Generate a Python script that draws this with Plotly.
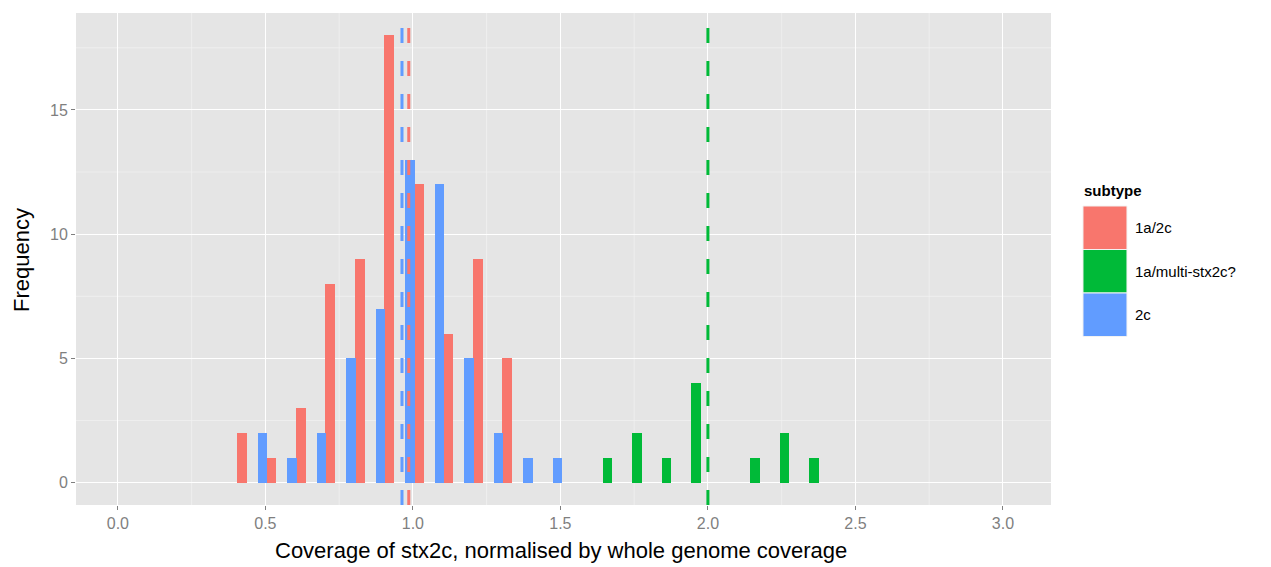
import plotly.graph_objects as go

# ---- data ----
subtypes = ["1a/2c", "1a/multi-stx2c?", "2c"]
colors = ["#F8766D", "#00BA38", "#619CFF"]

red_x = [0.42, 0.52, 0.62, 0.72, 0.82, 0.92, 1.02, 1.12, 1.22, 1.32]
red_y = [2, 1, 3, 8, 9, 18, 12, 6, 9, 5]

green_x = [1.66, 1.76, 1.86, 1.96, 2.16, 2.26, 2.36]
green_y = [1, 2, 1, 4, 1, 2, 1]

blue_x = [0.49, 0.59, 0.69, 0.79, 0.89, 0.99, 1.09, 1.19, 1.29, 1.39, 1.49]
blue_y = [2, 1, 2, 5, 7, 13, 12, 5, 2, 1, 1]

mean_x = [0.986, 2.0, 0.963]   # per subtype (dashed lines)

x_ticks = [0.0, 0.5, 1.0, 1.5, 2.0, 2.5, 3.0]
x_tick_labels = ["0.0", "0.5", "1.0", "1.5", "2.0", "2.5", "3.0"]
y_ticks = [0, 5, 10, 15]

series = [(red_x, red_y), (green_x, green_y), (blue_x, blue_y)]

fig = go.Figure()
for (xs, ys), name, col in zip(series, subtypes, colors):
    fig.add_trace(go.Bar(x=xs, y=ys, name=name, width=0.033,
                         marker=dict(color=col, line=dict(width=0)),
                         showlegend=False))

font_family = "Liberation Sans, Arial, sans-serif"
grey50 = "#7F7F7F"

shapes = []
# minor gridlines
for v in [0.25, 0.75, 1.25, 1.75, 2.25, 2.75]:
    shapes.append(dict(type="line", xref="x", yref="paper", x0=v, x1=v, y0=0, y1=1,
                       line=dict(color="#F2F2F2", width=0.7), layer="below"))
for v in [2.5, 7.5, 12.5, 17.5]:
    shapes.append(dict(type="line", xref="paper", yref="y", x0=0, x1=1, y0=v, y1=v,
                       line=dict(color="#F2F2F2", width=0.7), layer="below"))
# mean lines
for mx, col in zip(mean_x, colors):
    shapes.append(dict(type="line", xref="x", yref="paper", x0=mx, x1=mx, y0=0, y1=1,
                       line=dict(color=col, width=3, dash="15px,18px"), layer="above"))

annotations = [
    dict(text="Coverage of stx2c, normalised by whole genome coverage",
         xref="paper", yref="paper", x=0.497, y=-0.0915, xanchor="center", yanchor="middle",
         showarrow=False, font=dict(size=22, color="#000000", family=font_family)),
    dict(text="Frequency", xref="paper", yref="paper", x=-0.0554, y=0.498, textangle=-90,
         xanchor="center", yanchor="middle",
         showarrow=False, font=dict(size=22, color="#000000", family=font_family)),
    dict(text="<b>subtype</b>", xref="paper", yref="paper", x=1.0318, y=0.640,
         xanchor="left", yanchor="middle", showarrow=False,
         font=dict(size=15, color="#000000", family=font_family)),
]
# manual legend (ggplot style keys)
key_w = 44 / 975
key_h = 43.5 / 492
key_x0 = 1.0328
key_top = 0.6077
for i, (name, col) in enumerate(zip(subtypes, colors)):
    y1 = key_top - i * key_h
    y0 = y1 - key_h
    shapes.append(dict(type="rect", xref="paper", yref="paper",
                       x0=key_x0, x1=key_x0 + key_w, y0=y0, y1=y1,
                       fillcolor=col, line=dict(color="#F2F2F2", width=1)))
    annotations.append(dict(text=name, xref="paper", yref="paper",
                            x=1.084, y=(y0 + y1) / 2,
                            xanchor="left", yanchor="middle", showarrow=False,
                            font=dict(size=15, color="#000000", family=font_family)))

# the page adds an 8px body margin, so the figure is drawn 8px smaller
fig.update_layout(
    width=1263, height=559,
    margin=dict(l=68, r=220, t=5, b=62, autoexpand=False),
    paper_bgcolor="white", plot_bgcolor="#E5E5E5",
    barmode="overlay", bargap=0,
    font=dict(family=font_family),
    shapes=shapes, annotations=annotations,
    xaxis=dict(range=[-0.142, 3.163], tickvals=x_ticks, ticktext=x_tick_labels,
               showgrid=True, gridcolor="white", gridwidth=1.2, zeroline=False,
               ticks="outside", ticklen=4, tickcolor=grey50, tickwidth=1,
               tickfont=dict(size=16, color=grey50), automargin=False,
               showline=False),
    yaxis=dict(range=[-0.9, 18.9], tickvals=y_ticks,
               showgrid=True, gridcolor="white", gridwidth=1.2, zeroline=False,
               ticks="outside", ticklen=4, tickcolor=grey50, tickwidth=1,
               tickfont=dict(size=16, color=grey50), automargin=False,
               showline=False),
)

fig.write_html("out.html")
